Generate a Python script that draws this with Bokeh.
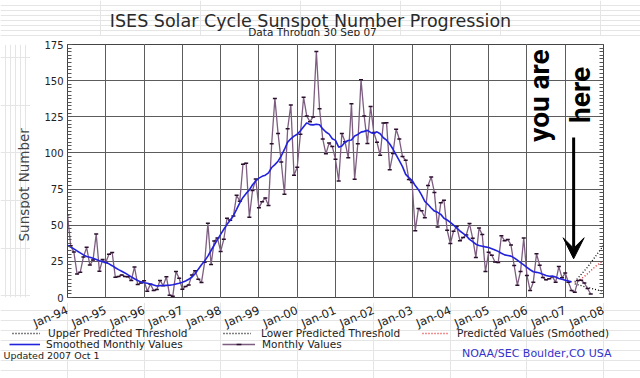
import math
from bokeh.plotting import figure
from bokeh.layouts import column, row
from bokeh.models import (ColumnDataSource, FixedTicker, Label, Legend, LegendItem, Grid,
                          LinearAxis, Range1d, Arrow, VeeHead)
from bokeh.core.properties import value
from bokeh.embed import file_html
from bokeh.resources import INLINE

# ---------------- data ----------------
tick_years = list(range(1994, 2009))
tick_labels = ["Jan-94", "Jan-95", "Jan-96", "Jan-97", "Jan-98", "Jan-99", "Jan-00",
               "Jan-01", "Jan-02", "Jan-03", "Jan-04", "Jan-05", "Jan-06", "Jan-07", "Jan-08"]
y_ticks = [0, 25, 50, 75, 100, 125, 150, 175]

monthly_1994 = [57.2, 35.8, 31.4, 16.3, 17.5, 28.1, 34.7, 22.4, 25.9, 43.9, 18.2, 26.2]
monthly_1995 = [24.2, 29.9, 31.1, 14.0, 14.5, 15.6, 14.5, 14.3, 11.8, 21.1, 9.0, 10.0]
monthly_1996 = [11.5, 4.4, 9.2, 4.8, 5.5, 11.8, 8.2, 14.4, 1.6, 0.9, 17.9, 13.3]
monthly_1997 = [5.7, 7.6, 8.7, 15.5, 18.5, 12.7, 10.4, 24.4, 51.3, 22.8, 39.0, 41.2]
monthly_1998 = [31.9, 40.3, 54.8, 53.4, 56.3, 70.7, 66.6, 92.2, 92.9, 55.5, 74.0, 81.9]
monthly_1999 = [62.0, 66.3, 68.8, 63.7, 106.4, 137.7, 113.5, 93.7, 71.5, 116.7, 133.2, 84.6]
monthly_2000 = [90.1, 112.9, 138.5, 125.5, 121.6, 124.9, 170.1, 130.5, 109.7, 99.4, 106.8, 104.4]
monthly_2001 = [95.6, 80.6, 113.5, 107.7, 96.6, 134.0, 81.8, 106.4, 150.7, 125.5, 106.5, 132.2]
monthly_2002 = [114.1, 107.4, 98.4, 120.7, 120.8, 88.3, 99.6, 116.4, 109.6, 97.5, 95.0, 81.6]
monthly_2003 = [79.5, 46.2, 61.5, 60.0, 55.2, 77.4, 83.3, 72.7, 48.7, 65.5, 67.3, 46.5]
monthly_2004 = [37.3, 45.8, 49.1, 39.3, 41.5, 43.2, 51.1, 40.9, 27.7, 48.0, 43.5, 17.9]
monthly_2005 = [31.3, 29.2, 24.5, 24.2, 42.7, 39.3, 40.1, 36.4, 22.1, 8.5, 18.0, 41.2]
monthly_2006 = [15.3, 4.9, 10.6, 30.2, 22.3, 13.9, 12.2, 12.9, 14.4, 10.5, 21.4, 13.6]
monthly_2007 = [16.9, 10.6, 4.8, 3.7, 11.7, 12.0, 10.0, 6.2, 2.4]

smoothed_1994 = [36.0, 34.9, 33.6, 32.2, 30.9, 29.5, 28.4, 27.8, 27.1, 26.3, 25.4, 24.8]
smoothed_1995 = [24.2, 23.3, 22.0, 20.6, 19.3, 18.2, 17.0, 15.6, 14.3, 13.0, 11.8, 10.8]
smoothed_1996 = [10.2, 9.9, 9.4, 8.7, 8.0, 8.2, 8.3, 8.4, 8.5, 8.8, 9.4, 9.9]
smoothed_1997 = [10.5, 11.4, 12.6, 14.1, 16.4, 19.6, 22.6, 25.3, 28.6, 32.5, 36.3, 40.0]
smoothed_1998 = [43.7, 47.2, 50.6, 53.5, 56.6, 61.0, 65.5, 69.2, 72.0, 74.4, 78.0, 80.6]
smoothed_1999 = [82.6, 83.8, 84.6, 86.2, 89.9, 91.9, 94.3, 97.9, 102.4, 107.5, 109.8, 111.6]
smoothed_2000 = [112.9, 115.3, 118.1, 120.8, 119.6, 119.4, 119.8, 119.5, 116.6, 114.5, 113.0, 109.8]
smoothed_2001 = [108.7, 104.0, 104.8, 107.5, 108.6, 108.9, 111.7, 112.8, 114.4, 114.9, 115.6, 114.2]
smoothed_2002 = [113.5, 114.6, 113.3, 110.5, 108.8, 106.2, 102.7, 98.7, 94.6, 90.5, 85.2, 82.9]
smoothed_2003 = [80.9, 77.4, 74.6, 70.8, 66.5, 64.3, 61.9, 59.8, 58.9, 57.5, 54.8, 53.6]
smoothed_2004 = [52.0, 50.1, 48.2, 46.0, 44.4, 42.7, 40.2, 38.7, 36.9, 36.0, 35.5, 35.0]
smoothed_2005 = [34.6, 33.8, 32.9, 31.9, 30.6, 29.5, 29.1, 28.6, 27.4, 25.8, 24.1, 22.6]
smoothed_2006 = [20.8, 19.2, 17.8, 17.4, 16.9, 16.0, 15.2, 14.7, 14.9, 14.2, 13.2, 12.6]
smoothed_2007 = [12.0, 11.4, 10.8]

# predictions, Apr 2007 .. Jan 2008
upper_threshold = [11.0, 13.5, 16.0, 18.5, 21.0, 24.0, 27.0, 30.0, 33.0, 36.0]
predicted_smoothed = [10.0, 11.5, 13.0, 14.5, 16.5, 18.5, 20.5, 22.5, 24.0, 25.5]
lower_threshold = [9.5, 8.8, 8.2, 7.6, 7.0, 6.4, 5.8, 5.2, 4.8, 4.5]

monthly = (monthly_1994 + monthly_1995 + monthly_1996 + monthly_1997 + monthly_1998 +
           monthly_1999 + monthly_2000 + monthly_2001 + monthly_2002 + monthly_2003 +
           monthly_2004 + monthly_2005 + monthly_2006 + monthly_2007)
smoothed = (smoothed_1994 + smoothed_1995 + smoothed_1996 + smoothed_1997 + smoothed_1998 +
            smoothed_1999 + smoothed_2000 + smoothed_2001 + smoothed_2002 + smoothed_2003 +
            smoothed_2004 + smoothed_2005 + smoothed_2006 + smoothed_2007)

start = 1994
mx = [start + i / 12 for i in range(len(monthly))]
sx = [start + i / 12 for i in range(len(smoothed))]
p0 = len(smoothed)
px = [start + (p0 + i) / 12 for i in range(len(upper_threshold))]

src_m = ColumnDataSource(dict(x=mx, y=monthly))
src_s = ColumnDataSource(dict(x=sx, y=smoothed))
src_p = ColumnDataSource(dict(x=px, up=upper_threshold, lo=lower_threshold, pr=predicted_smoothed))

FONT = "DejaVu Sans"
TXT = "#222222"
NAN = float("nan")

# styles shared by chart and legend
ST_UP = dict(line_color="black", line_width=1.3, line_dash="1 2")
ST_LO = dict(line_color="black", line_width=1.3, line_dash="1 2")
ST_PR = dict(line_color="#e02020", line_width=1.3, line_dash="1 2")
ST_ML = dict(line_color="#7d5d80", line_width=1.3)
ST_MM = dict(marker="dash", size=4, line_color="#2a0f2d", line_width=1.5)
ST_SM = dict(line_color="#2222dd", line_width=1.6)

# page geometry (pixels)
FR_L, FR_W, FR_T, FR_H = 67, 536, 44, 253
HEAD_H = 36
TOP_B, BOT_B = FR_T - HEAD_H, 5
MAIN_H = TOP_B + FR_H + BOT_B
F_TOP = HEAD_H + MAIN_H
FOOT_H = 378 - F_TOP
STRIP_W = 30


def pixel_fig(w, h, y_top, y_bottom, x_range=None):
    """A blank figure whose y data units are page pixels (y grows downward)."""
    f = figure(width=w, height=h, x_range=x_range or Range1d(0, w),
               y_range=Range1d(y_bottom, y_top),
               output_backend="svg", toolbar_location=None, min_border=0,
               x_axis_location=None, y_axis_location=None)
    f.title = None
    f.outline_line_color = None
    f.background_fill_color = "white"
    f.border_fill_color = "white"
    return f


def lab(fig, x, y, text, size, color=TXT, align="left", baseline="alphabetic", angle=0,
        font=FONT, style="normal"):
    fig.add_layout(Label(x=x, y=y, text=text, text_font=font, text_font_size=size,
                         text_color=color, text_align=align, text_baseline=baseline,
                         angle=angle, text_font_style=style))


# ---------------- header ----------------
header = pixel_fig(640, HEAD_H, 0, HEAD_H)
lab(header, 310, 20, "ISES Solar Cycle Sunspot Number Progression", "17.5px",
    color="#2a2a2a", align="center")
lab(header, 312, 31, "Data Through 30 Sep 07", "10.5px", align="center")

# ---------------- left strip (y label) ----------------
left = pixel_fig(STRIP_W, MAIN_H, HEAD_H, F_TOP)
lab(left, 23, 183.5, "Sunspot Number", "13.5px", color="#444444", align="center",
    baseline="middle", angle=math.pi / 2)

# ---------------- main chart ----------------
p = figure(frame_width=FR_W, frame_height=FR_H,
           x_range=Range1d(1994, 2008), y_range=Range1d(0, 175),
           output_backend="svg", toolbar_location=None, x_axis_location=None,
           min_border_left=FR_L - STRIP_W, min_border_right=640 - FR_L - FR_W,
           min_border_top=TOP_B, min_border_bottom=BOT_B)
p.title = None
p.background_fill_color = "white"
p.border_fill_color = "white"
p.outline_line_color = "#444444"
p.outline_line_width = 1

minor = [i * 2.5 for i in range(71)]
ya = p.yaxis[0]
ya.ticker = FixedTicker(ticks=y_ticks, minor_ticks=minor)
ra = LinearAxis(ticker=FixedTicker(ticks=y_ticks, minor_ticks=minor))
p.add_layout(ra, "right")
for ax in (ya, ra):
    ax.major_tick_in = 5
    ax.major_tick_out = 0
    ax.minor_tick_in = 4
    ax.minor_tick_out = 0
    ax.major_tick_line_color = "#555555"
    ax.minor_tick_line_color = "#555555"
    ax.axis_line_color = None
ya.major_label_standoff = 4
ya.major_label_text_font = FONT
ya.major_label_text_font_size = "10px"
ya.major_label_text_color = TXT
ra.major_label_text_color = None

p.add_layout(Grid(dimension=0, ticker=FixedTicker(ticks=tick_years),
                  grid_line_color="#5c5c5c", grid_line_width=1))
p.ygrid.ticker = FixedTicker(ticks=y_ticks)
p.ygrid.grid_line_color = "#5c5c5c"
p.ygrid.grid_line_width = 1

p.line("x", "up", source=src_p, **ST_UP)
p.line("x", "lo", source=src_p, **ST_LO)
p.line("x", "pr", source=src_p, **ST_PR)
p.line("x", "y", source=src_m, **ST_ML)
p.scatter("x", "y", source=src_m, **ST_MM)
p.line("x", "y", source=src_s, **ST_SM)

BIG = "Roboto"
lab(p, 2006.33, 139.7, "you are", "28px", color="black", align="center", baseline="middle",
    angle=math.pi / 2, font=BIG, style="bold")
lab(p, 2007.41, 140.1, "here", "28px", color="black", align="center", baseline="middle",
    angle=math.pi / 2, font=BIG, style="bold")
p.add_layout(Arrow(x_start=2007.22, y_start=110.7, x_end=2007.22, y_end=26.8,
                   line_width=3, line_color="black",
                   end=VeeHead(size=21, fill_color="black", line_color="black")))

# ---------------- footer: x tick labels, legend, credits ----------------
k = FR_W / (2008 - 1994)              # pixels per year of the chart's x scale
foot_x = Range1d(1994 - FR_L / k, 2008 + (640 - FR_L - FR_W) / k)
footer = pixel_fig(640, FOOT_H, F_TOP, 378, x_range=foot_x)

footer.text(x=tick_years, y=[309] * len(tick_years), text=tick_labels, angle=0.4,
            text_align="right", text_baseline="middle", text_font=value(FONT),
            text_font_size="11.5px", text_color=TXT)

# legend-only renderers (no visible data)
f_up = footer.line(x=[NAN], y=[NAN], **ST_UP)
f_lo = footer.line(x=[NAN], y=[NAN], **ST_LO)
f_pr = footer.line(x=[NAN], y=[NAN], **ST_PR)
f_sm = footer.line(x=[NAN], y=[NAN], **ST_SM)
f_ml = footer.line(x=[NAN], y=[NAN], **ST_ML)
f_mm = footer.scatter(x=[NAN], y=[NAN], **ST_MM)


def add_legend(label, renderers, x, y_center, gw, standoff):
    lg = Legend(items=[LegendItem(label=label, renderers=renderers)],
                location=(x, 378 - y_center - 6),
                padding=0, margin=0, border_line_color=None, background_fill_alpha=0,
                glyph_width=gw, glyph_height=12, label_height=12, label_standoff=standoff,
                label_text_font=FONT, label_text_font_size="10.5px", label_text_color=TXT,
                spacing=0)
    footer.add_layout(lg, "center")


add_legend("Upper Predicted Threshold", [f_up], 12, 333, 28, 8)
add_legend("Lower Predicted Threshold", [f_lo], 223, 333, 28, 10)
add_legend("Predicted Values (Smoothed)", [f_pr], 422, 333, 26, 9)
add_legend("Smoothed Monthly Values", [f_sm], 9, 343.5, 31, 6)
add_legend("Monthly Values", [f_ml, f_mm], 222, 343.5, 33, 7)


def px2yr(xpix):
    return 1994 + (xpix - FR_L) / k


lab(footer, px2yr(3), 355, "Updated 2007 Oct  1", "9.5px", baseline="middle")
lab(footer, px2yr(611), 352.5, "NOAA/SEC Boulder,CO USA", "11px", color="#3333cc",
    align="right", baseline="middle")

layout = column(header, row(left, p), footer)
open("out.html", "w").write(file_html(layout, INLINE))
